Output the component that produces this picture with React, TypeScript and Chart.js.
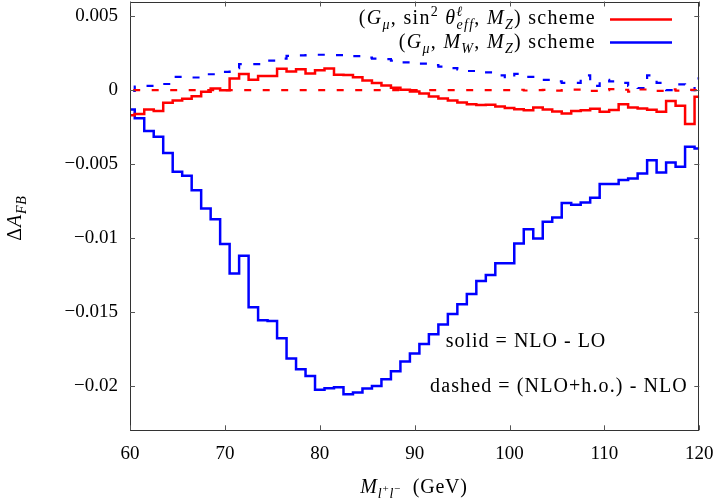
import React, { useEffect, useRef } from 'react';
import { Chart, registerables } from 'chart.js';

Chart.register(...registerables);

// Invariant-mass bins (GeV), one value per bin centre
const massBins = [
  60, 61, 62, 63, 64, 65, 66, 67, 68, 69,
  70, 71, 72, 73, 74, 75, 76, 77, 78, 79,
  80, 81, 82, 83, 84, 85, 86, 87, 88, 89,
  90, 91, 92, 93, 94, 95, 96, 97, 98, 99,
  100, 101, 102, 103, 104, 105, 106, 107, 108, 109,
  110, 111, 112, 113, 114, 115, 116, 117, 118, 119,
  120,
];

// (G_mu, sin^2 theta_eff, M_Z) scheme: NLO - LO
const sweffSolid = [
  -0.00169, -0.0016, -0.0013, -0.0014, -0.00085, -0.0007, -0.00058, -0.0004, -0.00011, 0.00011,
  0.0, 0.00079, 0.0011, 0.0007, 0.00096, 0.00096, 0.00145, 0.00126, 0.00142, 0.00113,
  0.00135, 0.00147, 0.00105, 0.00103, 0.00088, 0.00066, 0.00048, 0.00032, 0.00017, 0.00003,
  -0.00008, -0.00023, -0.00042, -0.00056, -0.0007, -0.00083, -0.00095, -0.001, -0.00098, -0.0011,
  -0.0012, -0.00128, -0.00135, -0.00117, -0.0013, -0.00144, -0.00158, -0.00141, -0.00135, -0.00126,
  -0.00146, -0.00134, -0.00095, -0.00117, -0.00124, -0.00132, -0.00146, -0.00073, -0.00105, -0.00228,
  -0.00045,
];

// (G_mu, sin^2 theta_eff, M_Z) scheme: (NLO+h.o.) - NLO
const sweffDashed = [
  0, 0, 0, 0, 0, 0, 0, 0, 0, 0,
  0, 0, 0, 0, 0, 0, 0, 0, 0, 0,
  0, 0, 0, 0, 0, 0, 0, 0, 0, 0,
  0, 0, 0, 0, 0, 0, 0, 0, 0, 0,
  0, 0.00003, -0.00002, 0, 0.00002, -0.00003, 0, 0.00004, 0, -0.00005,
  0, 0.00008, 0.00003, -0.0001, 0.00005, 0.00002, -0.00004, 0.00006, -0.00003, 0.00002,
  0,
];

// (G_mu, M_W, M_Z) scheme: NLO - LO
const mwSolid = [
  -0.0013, -0.0019, -0.00275, -0.00315, -0.00424, -0.00552, -0.00578, -0.00676, -0.008, -0.00873,
  -0.0104, -0.0124, -0.0112, -0.01468, -0.01556, -0.01561, -0.01678, -0.01815, -0.01887, -0.01932,
  -0.02025, -0.02015, -0.02009, -0.02057, -0.02045, -0.02018, -0.02, -0.01955, -0.01901, -0.01835,
  -0.0178, -0.01716, -0.01651, -0.01584, -0.01514, -0.01448, -0.01378, -0.01291, -0.0125, -0.0117,
  -0.0117, -0.01036, -0.0094, -0.01002, -0.0089, -0.0086, -0.00762, -0.00775, -0.0076, -0.00727,
  -0.00635, -0.00635, -0.00608, -0.00597, -0.00563, -0.00473, -0.00556, -0.00489, -0.00518, -0.00383,
  -0.00394,
];

// (G_mu, M_W, M_Z) scheme: (NLO+h.o.) - NLO
const mwDashed = [
  -0.00005, 0.00025, 0.0003, 0.00042, 0.00042, 0.0009, 0.0009, 0.00086, 0.00108, 0.00108,
  0.00124, 0.0015, 0.00176, 0.00176, 0.00176, 0.002, 0.00214, 0.00232, 0.00236, 0.00238,
  0.0024, 0.0024, 0.00238, 0.00236, 0.0023, 0.0022, 0.00214, 0.0021, 0.002, 0.00188,
  0.00186, 0.0018, 0.0017, 0.0016, 0.0015, 0.0014, 0.0013, 0.0012, 0.0012, 0.001,
  0.0008, 0.0011, 0.0009, 0.0008, 0.0007, 0.0006, 0.0005, 0.0005, 0.001, 0.0003,
  0.0007, 0.0006, 0.0005, 0.0003, 0.00015, 0.001, 0.0005, 0.0, 0.0004, 0.0,
  0.0008,
];

const xTickValues = [60, 70, 80, 90, 100, 110, 120];
const xTickLabels = ['60', '70', '80', '90', '100', '110', '120'];
const yTickValues = [0.005, 0, -0.005, -0.01, -0.015, -0.02];
const yTickLabels = ['0.005', '0', '\u22120.005', '\u22120.01', '\u22120.015', '\u22120.02'];

const RED = '#ff0000';
const BLUE = '#0000ff';
const SERIF = '"Liberation Serif", "Times New Roman", serif';

type Run = { t: string; it?: boolean; s?: number; dy?: number; keep?: boolean };

const fontOf = (size: number, it?: boolean) => `${it ? 'italic ' : ''}${size}px ${SERIF}`;

function runsWidth(ctx: CanvasRenderingContext2D, runs: Run[], size: number) {
  let w = 0;
  for (const r of runs) {
    if (r.keep) continue;
    ctx.font = fontOf(size * (r.s ?? 1), r.it);
    w += ctx.measureText(r.t).width;
  }
  return w;
}

function drawRuns(
  ctx: CanvasRenderingContext2D,
  runs: Run[],
  x: number,
  y: number,
  size: number,
  align: 'left' | 'right' | 'center',
  spacing = 0,
) {
  (ctx as any).letterSpacing = `${spacing}px`;
  const w = runsWidth(ctx, runs, size);
  let cx = align === 'left' ? x : align === 'right' ? x - w : x - w / 2;
  ctx.textAlign = 'left';
  ctx.textBaseline = 'alphabetic';
  for (const r of runs) {
    ctx.font = fontOf(size * (r.s ?? 1), r.it);
    ctx.fillText(r.t, cx, y + (r.dy ?? 0));
    if (!r.keep) cx += ctx.measureText(r.t).width;
  }
  (ctx as any).letterSpacing = '0px';
}

const legendRowA: Run[] = [
  { t: '(' }, { t: 'G', it: true }, { t: '\u03bc', it: true, s: 0.7, dy: 5 },
  { t: ', sin' }, { t: '2', s: 0.7, dy: -8 }, { t: ' ' },
  { t: '\u03b8', it: true }, { t: '\u2113', it: true, s: 0.7, dy: -8, keep: true },
  { t: 'eff', it: true, s: 0.7, dy: 5 },
  { t: ', ' }, { t: 'M', it: true }, { t: 'Z', it: true, s: 0.7, dy: 5 },
  { t: ') scheme' },
];
const legendRowB: Run[] = [
  { t: '(' }, { t: 'G', it: true }, { t: '\u03bc', it: true, s: 0.7, dy: 5 },
  { t: ', ' }, { t: 'M', it: true }, { t: 'W', it: true, s: 0.7, dy: 5 },
  { t: ', ' }, { t: 'M', it: true }, { t: 'Z', it: true, s: 0.7, dy: 5 },
  { t: ') scheme' },
];
const xTitle: Run[] = [
  { t: 'M', it: true }, { t: 'l', it: true, s: 0.7, dy: 5 }, { t: '+', s: 0.55, dy: -1 },
  { t: 'l', it: true, s: 0.7, dy: 5 }, { t: '\u2212', s: 0.55, dy: -1 }, { t: '  (GeV)' },
];
const yTitle: Run[] = [
  { t: '\u0394' }, { t: 'A', it: true }, { t: 'FB', it: true, s: 0.7, dy: 5 },
];

const decorPlugin = {
  id: 'frameAndLabels',
  afterDraw(chart: any) {
    const { ctx, chartArea: a, scales } = chart;
    const xs = scales.x;
    const ys = scales.y;
    ctx.save();

    // frame
    ctx.strokeStyle = '#333';
    ctx.lineWidth = 1;
    ctx.strokeRect(Math.round(a.left) + 0.5, Math.round(a.top) + 0.5,
      Math.round(a.right - a.left) - 1, Math.round(a.bottom - a.top) - 1);

    // inward ticks on all four sides
    const tl = 5;
    ctx.strokeStyle = '#555';
    ctx.beginPath();
    for (const v of xTickValues) {
      const px = Math.round(xs.getPixelForValue(v)) + 0.5;
      ctx.moveTo(px, a.bottom); ctx.lineTo(px, a.bottom - tl);
      ctx.moveTo(px, a.top); ctx.lineTo(px, a.top + tl);
    }
    for (const v of yTickValues) {
      const py = Math.round(ys.getPixelForValue(v)) + 0.5;
      ctx.moveTo(a.left, py); ctx.lineTo(a.left + tl, py);
      ctx.moveTo(a.right, py); ctx.lineTo(a.right - tl, py);
    }
    ctx.stroke();

    ctx.fillStyle = '#000';
    // key
    drawRuns(ctx, legendRowA, 596, 24, 20, 'right', 1.3);
    drawRuns(ctx, legendRowB, 596, 48, 20, 'right', 1.3);
    ctx.lineWidth = 2.5;
    ctx.strokeStyle = RED;
    ctx.beginPath(); ctx.moveTo(610, 19.5); ctx.lineTo(672, 19.5); ctx.stroke();
    ctx.strokeStyle = BLUE;
    ctx.beginPath(); ctx.moveTo(610, 42.5); ctx.lineTo(672, 42.5); ctx.stroke();

    // notes
    drawRuns(ctx, [{ t: 'solid = NLO - LO' }], 526, 347, 20, 'center', 1.0);
    drawRuns(ctx, [{ t: 'dashed = (NLO+h.o.) - NLO' }], 559, 392, 20, 'center', 1.1);

    // axis titles
    drawRuns(ctx, xTitle, 414, 493, 20, 'center', 0.8);
    ctx.save();
    ctx.translate(21, 218);
    ctx.rotate(-Math.PI / 2);
    drawRuns(ctx, yTitle, 0, 0, 20, 'center', 0.8);
    ctx.restore();

    ctx.restore();
  },
};

const toPoints = (vals: number[]) => massBins.map((m, i) => ({ x: m, y: vals[i] }));

// keep the plot frame fixed: no extra room reserved for overhanging tick labels
const clearScalePadding = (s: any) => {
  s.paddingTop = 0;
  s.paddingBottom = 0;
  s.paddingLeft = 0;
  s.paddingRight = 0;
};

export default function App() {
  const canvasRef = useRef<HTMLCanvasElement>(null);

  useEffect(() => {
    document.body.style.margin = '0';
    const canvas = canvasRef.current;
    if (!canvas) return;

    const common = {
      stepped: 'middle' as const,
      pointRadius: 0,
      fill: false,
      borderJoinStyle: 'miter' as const,
      tension: 0,
    };

    const chart = new Chart(canvas, {
      type: 'line',
      data: {
        datasets: [
          { ...common, label: 'sweff NLO-LO', data: toPoints(sweffSolid), borderColor: RED, borderWidth: 2.5 },
          { ...common, label: 'MW NLO-LO', data: toPoints(mwSolid), borderColor: BLUE, borderWidth: 2.5 },
          {
            ...common, label: 'sweff h.o.', data: toPoints(sweffDashed), borderColor: RED, borderWidth: 2.2,
            borderDash: [7, 11.5], borderDashOffset: 15.3,
          },
          {
            ...common, label: 'MW h.o.', data: toPoints(mwDashed), borderColor: BLUE, borderWidth: 2.2,
            borderDash: [7, 11.5], borderDashOffset: 15.3,
          },
        ],
      },
      options: {
        responsive: false,
        animation: false,
        devicePixelRatio: 1,
        layout: { autoPadding: false, padding: { top: 1.5, right: 17.7, left: 0, bottom: 0 } },
        plugins: {
          legend: { display: false },
          tooltip: { enabled: false },
          title: { display: false },
        },
        scales: {
          x: {
            type: 'linear',
            min: 60,
            max: 120,
            grid: { display: false, drawTicks: false },
            border: { display: false },
            afterFit: (s: any) => { s.height = 69.7; clearScalePadding(s); },
            afterBuildTicks: (s: any) => { s.ticks = xTickValues.map((v) => ({ value: v })); },
            ticks: {
              autoSkip: false,
              maxRotation: 0,
              padding: 12,
              color: '#000',
              font: { family: SERIF, size: 19 },
              callback: (_v: any, i: number) => xTickLabels[i],
            },
          },
          y: {
            type: 'linear',
            min: -0.023,
            max: 0.006,
            grid: { display: false, drawTicks: false },
            border: { display: false },
            afterFit: (s: any) => { s.width = 130; clearScalePadding(s); },
            afterBuildTicks: (s: any) => { s.ticks = yTickValues.map((v) => ({ value: v })); },
            ticks: {
              autoSkip: false,
              padding: 12,
              color: '#000',
              font: { family: SERIF, size: 19 },
              callback: (_v: any, i: number) => yTickLabels[i],
            },
          },
        },
      },
      plugins: [decorPlugin],
    });

    return () => chart.destroy();
  }, []);

  return (
    <div style={{ width: 717, height: 500 }}>
      <canvas ref={canvasRef} width={717} height={500} style={{ display: 'block' }} />
    </div>
  );
}
